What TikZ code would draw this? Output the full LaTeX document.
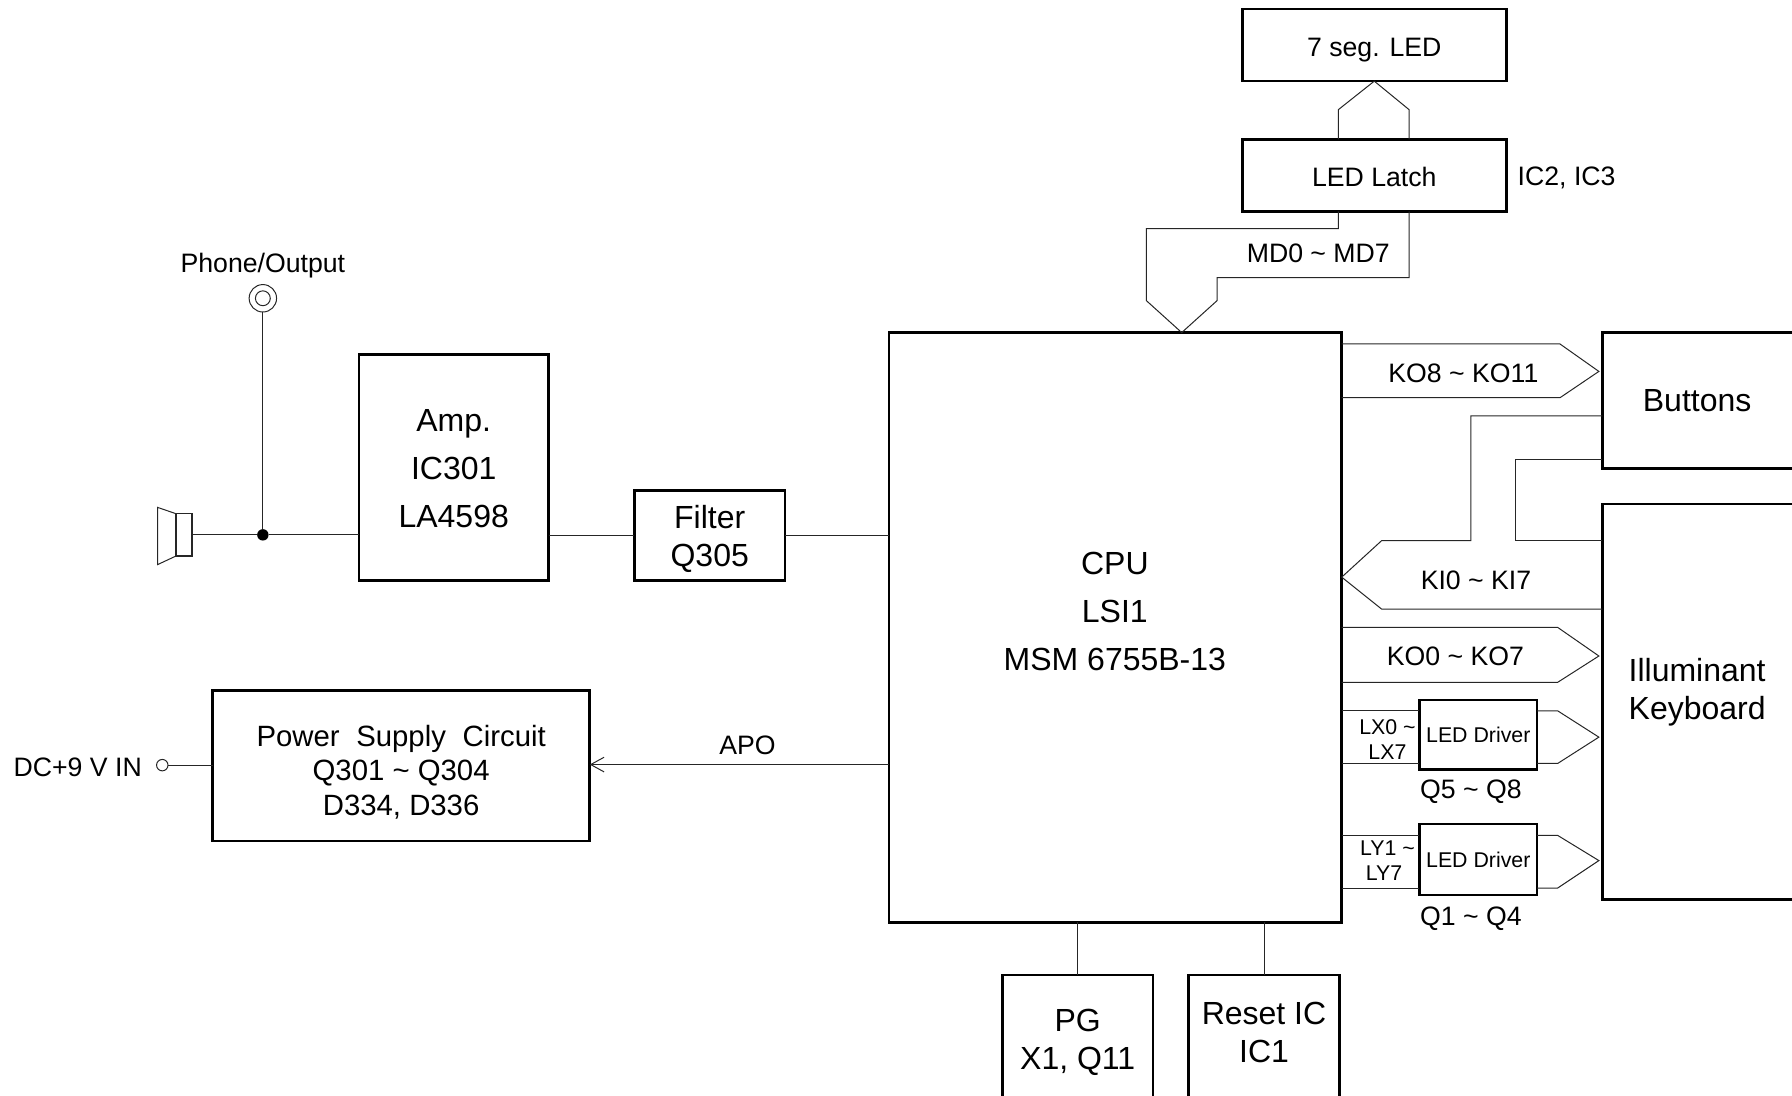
\documentclass[tikz,border=0pt]{standalone}
\usepackage{fontspec}
\setmainfont{Liberation Sans}
\usetikzlibrary{arrows.meta}
\newcommand{\til}{\textasciitilde}
\newcommand{\fs}[2]{\fontsize{#1pt}{#2pt}\selectfont}
\tikzset{
  x=0.857143pt, y=-0.857143pt,
  blockbox/.style n args={2}{draw=black, line width=2pt, fill=none, inner sep=0pt, outer sep=0pt, align=center,
     minimum width={#1*0.857143pt}, minimum height={#2*0.857143pt}},
  wire/.style={draw=black!85, line width=0.75pt, line join=miter},
  lab/.style={inner sep=0pt, outer sep=0pt, align=center},
}
\begin{document}
\begin{tikzpicture}
\useasboundingbox (0,0) rectangle (1568,959);
% blocks
\node[blockbox={231}{63}, font=\fs{20}{24}, text height=17pt, text depth=0pt] (seg) at (1202.5,39.5) {7 seg. LED};
\node[blockbox={231}{63}, font=\fs{20}{24}, text height=17pt, text depth=0pt] (latch) at (1202.5,153.5) {LED Latch};
\node[blockbox={396}{516}] (cpu) at (976,549) {};
\node[lab, font=\fs{24}{36}] (cputext) at (975.5,535) {CPU\\LSI1\\MSM 6755B-13};
\node[blockbox={168}{119}] (buttons) at (1486,350.5) {};
\node[lab, font=\fs{24}{28}] (buttonstext) at (1485,351) {Buttons};
\node[blockbox={168}{346}] (keys) at (1486,614) {};
\node[lab, font=\fs{24}{28.5}] (keystext) at (1485,605.5) {Illuminant\\Keyboard};
\node[blockbox={166}{198}] (amp) at (397,409) {};
\node[lab, font=\fs{24}{36}] (amptext) at (397,410) {Amp.\\IC301\\LA4598};
\node[blockbox={132}{79}] (filter) at (621,468.5) {};
\node[lab, font=\fs{24}{28.3}] (filtertext) at (621,471.5) {Filter\\Q305};
\node[blockbox={330}{132}] (power) at (351,670) {};
\node[lab, font=\fs{22}{25.8}] (powertext) at (351,675.5) {Power\hspace{12.5pt}Supply\hspace{12.5pt}Circuit\\Q301 \til{} Q304\\D334, D336};
\node[blockbox={103}{61}, font=\fs{16}{20}] (drvx) at (1293.5,643) {LED Driver};
\node[blockbox={103}{62}, font=\fs{16}{20}] (drvy) at (1293.5,752) {LED Driver};
\node[blockbox={132}{107}] (pg) at (943,906.5) {};
\node[blockbox={132}{107}] (reset) at (1106,906.5) {};
\node[lab, font=\fs{24}{29}] (pgtext) at (943,912) {PG\\X1, Q11};
\node[lab, font=\fs{24}{28.3}] (resettext) at (1106,903.5) {Reset IC\\IC1};
% terminals
\node[circle, draw=black!85, line width=0.75pt, minimum size={24*0.857143pt}, inner sep=0pt, outer sep=0pt] (jack) at (230,261) {};
\node[circle, draw=black!85, line width=0.75pt, minimum size={13*0.857143pt}, inner sep=0pt, outer sep=0pt] (jackin) at (230,261) {};
\node[circle, fill=black, minimum size={10*0.857143pt}, inner sep=0pt, outer sep=0pt] (dot) at (230,468) {};
\node[circle, draw=black!85, line width=0.75pt, minimum size={10*0.857143pt}, inner sep=0pt, outer sep=0pt] (dcin) at (142,669.5) {};
\node[draw=black!85, line width=0.9pt, minimum width={14*0.857143pt}, minimum height={37*0.857143pt}, inner sep=0pt, outer sep=0pt] (spk) at (161,468) {};
\draw[wire] (spk.north west) -- (138,444) -- (138,494) -- (spk.south west);
% simple wires
\draw[wire] (jack.south) -- (dot.north);
\draw[wire] (spk.east) -- (dot.west);
\draw[wire] (dot.east) -- (amp.west |- dot.east);
\draw[wire] (amp.east |- filter.west) -- (filter.west);
\draw[wire] (filter.east) -- (cpu.west |- filter.east);
\draw[wire] (dcin.east) -- (power.west |- dcin.east);
\draw[wire, -{Straight Barb[length=10pt,width=11pt,line width=0.75pt]}] (cpu.west |- 0,669) -- (power.east |- 0,669);
\draw[wire] (cpu.south -| pg.north) -- (pg.north);
\draw[wire] (cpu.south -| reset.north) -- (reset.north);
% buses
\draw[wire] (latch.north -| 1171,0) -- (1171,96) -- (seg.south) -- (1233,96) -- (latch.north -| 1233,0);
\draw[wire] (latch.south -| 1171,0) -- (1171,200) -- (1003,200) -- (1003,263) -- (cpu.north -| 1034,0) -- (1065,263) -- (1065,243) -- (1233,243) -- (latch.south -| 1233,0);
\draw[wire] (cpu.east |- 0,301) -- (1365,301) -- (1399,325) -- (1365,348) -- (cpu.east |- 0,348);
\draw[wire] (buttons.west |- 0,364) -- (1287,364) -- (1287,473) -- (1209,473) -- (cpu.east |- 0,505) -- (1209,533) -- (keys.west |- 0,533);
\draw[wire] (buttons.west |- 0,402) -- (1326,402) -- (1326,473) -- (keys.west |- 0,473);
\draw[wire] (cpu.east |- 0,549) -- (1363,549) -- (1399,574) -- (1363,597) -- (cpu.east |- 0,597);
\draw[wire] (cpu.east |- 0,622) -- (drvx.west |- 0,622);
\draw[wire] (cpu.east |- 0,668) -- (drvx.west |- 0,668);
\draw[wire] (drvx.east |- 0,622) -- (1363,622) -- (1399,645) -- (1363,668) -- (drvx.east |- 0,668);
\draw[wire] (cpu.east |- 0,731) -- (drvy.west |- 0,731);
\draw[wire] (cpu.east |- 0,777) -- (drvy.west |- 0,777);
\draw[wire] (drvy.east |- 0,731) -- (1363,731) -- (1399,753) -- (1363,777) -- (drvy.east |- 0,777);
% labels
\node[lab, font=\fs{20}{24}] (phone) at (230,232) {Phone/Output};
\node[lab, font=\fs{20}{24}] (dclab) at (68,671) {DC+9 V IN};
\node[lab, font=\fs{20}{24}] (apo) at (654,652.5) {APO};
\node[lab, font=\fs{20}{24}, anchor=west] (ic23) at (1328,156) {IC2, IC3};
\node[lab, font=\fs{20}{24}] (md) at (1153.5,222) {MD0 \til{} MD7};
\node[lab, font=\fs{20}{24}] (ko8) at (1280.5,327) {KO8 \til{} KO11};
\node[lab, font=\fs{20}{24}] (ki) at (1291.5,507.5) {KI0 \til{} KI7};
\node[lab, font=\fs{20}{24}] (ko0) at (1273.5,574.5) {KO0 \til{} KO7};
\node[lab, font=\fs{16}{19}] (lx) at (1214,647) {LX0 \til\\LX7};
\node[lab, font=\fs{16}{19}] (ly) at (1214,753) {LY1 \til\\LY7\hspace*{5pt}};
\node[lab, font=\fs{20}{24}] (q58) at (1287,693) {Q5 \til{} Q8};
\node[lab, font=\fs{20}{24}] (q14) at (1287,804) {Q1 \til{} Q4};
\end{tikzpicture}
\end{document}
